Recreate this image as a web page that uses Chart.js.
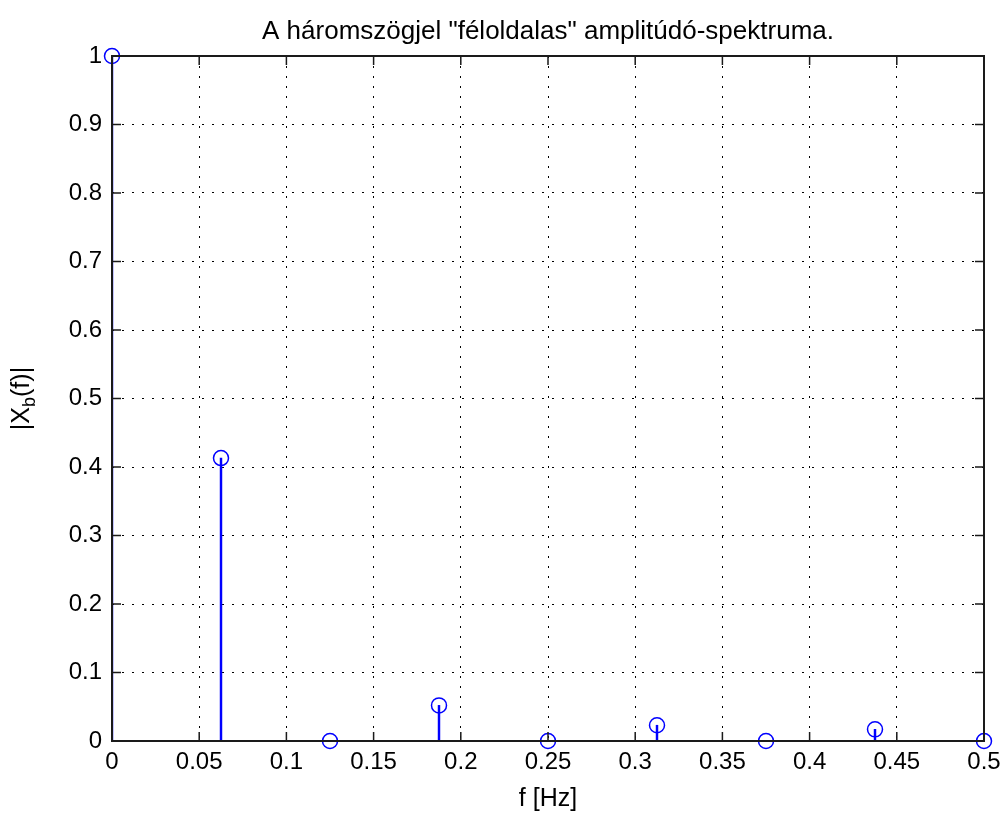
<!DOCTYPE html>
<html>
<head>
<meta charset="utf-8">
<script src="https://cdn.jsdelivr.net/npm/chart.js@4"></script>
<style>
  html, body { margin: 0; padding: 0; background: #fff; }
  #wrap { width: 1002px; height: 815px; }
</style>
</head>
<body>
<div id="wrap"><canvas id="spectrum"></canvas></div>
<script>
// values
const freqs = [0, 0.0625, 0.125, 0.1875, 0.25, 0.3125, 0.375, 0.4375, 0.5];
const amps = [1, 0.413, 0, 0.052, 0, 0.023, 0, 0.017, 0];
const xTicks = [0, 0.05, 0.1, 0.15, 0.2, 0.25, 0.3, 0.35, 0.4, 0.45, 0.5];
const yTicks = [0, 0.1, 0.2, 0.3, 0.4, 0.5, 0.6, 0.7, 0.8, 0.9, 1];

const titleText = 'A háromszögjel "féloldalas" amplitúdó-spektruma.';
const xLabel = 'f [Hz]';
const FONT = '"Liberation Sans", Arial, sans-serif';
const BLUE = '#0000ff';

const points = freqs.map((f, i) => ({ x: f, y: amps[i] }));

// box, inward ticks, title and axis labels
const matlabAxes = {
    id: 'matlabAxes',
    afterDraw(chart) {
        const { ctx, chartArea: a, scales } = chart;
        const tl = 9;
        ctx.save();
        ctx.strokeStyle = '#1a1a1a';
        ctx.lineWidth = 1.5;
        ctx.beginPath();
        xTicks.forEach(v => {
            const px = scales.x.getPixelForValue(v);
            ctx.moveTo(px, a.bottom); ctx.lineTo(px, a.bottom - tl);
            ctx.moveTo(px, a.top); ctx.lineTo(px, a.top + tl);
        });
        yTicks.forEach(v => {
            const py = scales.y.getPixelForValue(v);
            ctx.moveTo(a.left, py); ctx.lineTo(a.left + tl, py);
            ctx.moveTo(a.right, py); ctx.lineTo(a.right - tl, py);
        });
        ctx.stroke();
        ctx.lineWidth = 2;
        ctx.strokeRect(a.left, a.top, a.right - a.left, a.bottom - a.top);

        ctx.fillStyle = '#000';
        ctx.textAlign = 'center';
        ctx.textBaseline = 'middle';
        ctx.font = '26px ' + FONT;
        const cx = (a.left + a.right) / 2;
        ctx.fillText(titleText, cx, 32);
        ctx.font = '25px ' + FONT;
        ctx.fillText(xLabel, cx, 799);

        // |X_b(f)| rotated
        ctx.translate(22, (a.top + a.bottom) / 2);
        ctx.rotate(-Math.PI / 2);
        ctx.textAlign = 'left';
        const mainFont = '25px ' + FONT, subFont = '18px ' + FONT;
        ctx.font = mainFont;
        const w1 = ctx.measureText('|X').width;
        const w3 = ctx.measureText('(f)|').width;
        ctx.font = subFont;
        const w2 = ctx.measureText('b').width;
        let x0 = -(w1 + w2 + w3) / 2;
        ctx.font = mainFont;
        ctx.fillText('|X', x0, 0);
        ctx.font = subFont;
        ctx.fillText('b', x0 + w1, 8);
        ctx.font = mainFont;
        ctx.fillText('(f)|', x0 + w1 + w2, 0);
        ctx.restore();
    }
};

new Chart(document.getElementById('spectrum'), {
    type: 'scatter',
    data: {
        datasets: [
            {
                type: 'bar',
                data: points,
                backgroundColor: BLUE,
                barThickness: 1.8,
                grouped: false,
                order: 2
            },
            {
                type: 'scatter',
                data: points,
                pointRadius: 7.5,
                pointHoverRadius: 7.5,
                pointBorderWidth: 1.5,
                pointBackgroundColor: 'rgba(0,0,0,0)',
                pointBorderColor: BLUE,
                clip: false,
                order: 1
            }
        ]
    },
    options: {
        responsive: true,
        maintainAspectRatio: false,
        animation: false,
        events: [],
        layout: { padding: { left: 0, top: 56, right: 18, bottom: 0 } },
        plugins: {
            legend: { display: false },
            tooltip: { enabled: false },
            title: { display: false }
        },
        scales: {
            x: {
                type: 'linear',
                min: 0, max: 0.5,
                offset: false,
                afterFit: s => { s.height = 74; s.paddingLeft = 0; s.paddingRight = 0; },
                afterBuildTicks: s => { s.ticks = xTicks.map(v => ({ value: v })); },
                ticks: {
                    color: '#000',
                    font: { family: FONT, size: 24 },
                    padding: 7,
                    maxRotation: 0,
                    autoSkip: false,
                    callback: v => String(Number(v.toFixed(2)))
                },
                grid: { color: '#000', lineWidth: 1, drawTicks: false, offset: false },
                border: { display: false, dash: [2, 8] }
            },
            y: {
                min: 0, max: 1,
                afterFit: s => { s.width = 112; s.paddingTop = 0; s.paddingBottom = 0; },
                afterBuildTicks: s => { s.ticks = yTicks.map(v => ({ value: v })); },
                ticks: {
                    color: '#000',
                    font: { family: FONT, size: 24 },
                    padding: 10,
                    autoSkip: false,
                    callback: v => String(Number(v.toFixed(2)))
                },
                grid: { color: '#000', lineWidth: 1, drawTicks: false },
                border: { display: false, dash: [2, 8] }
            }
        }
    },
    plugins: [matlabAxes]
});
</script>
</body>
</html>
